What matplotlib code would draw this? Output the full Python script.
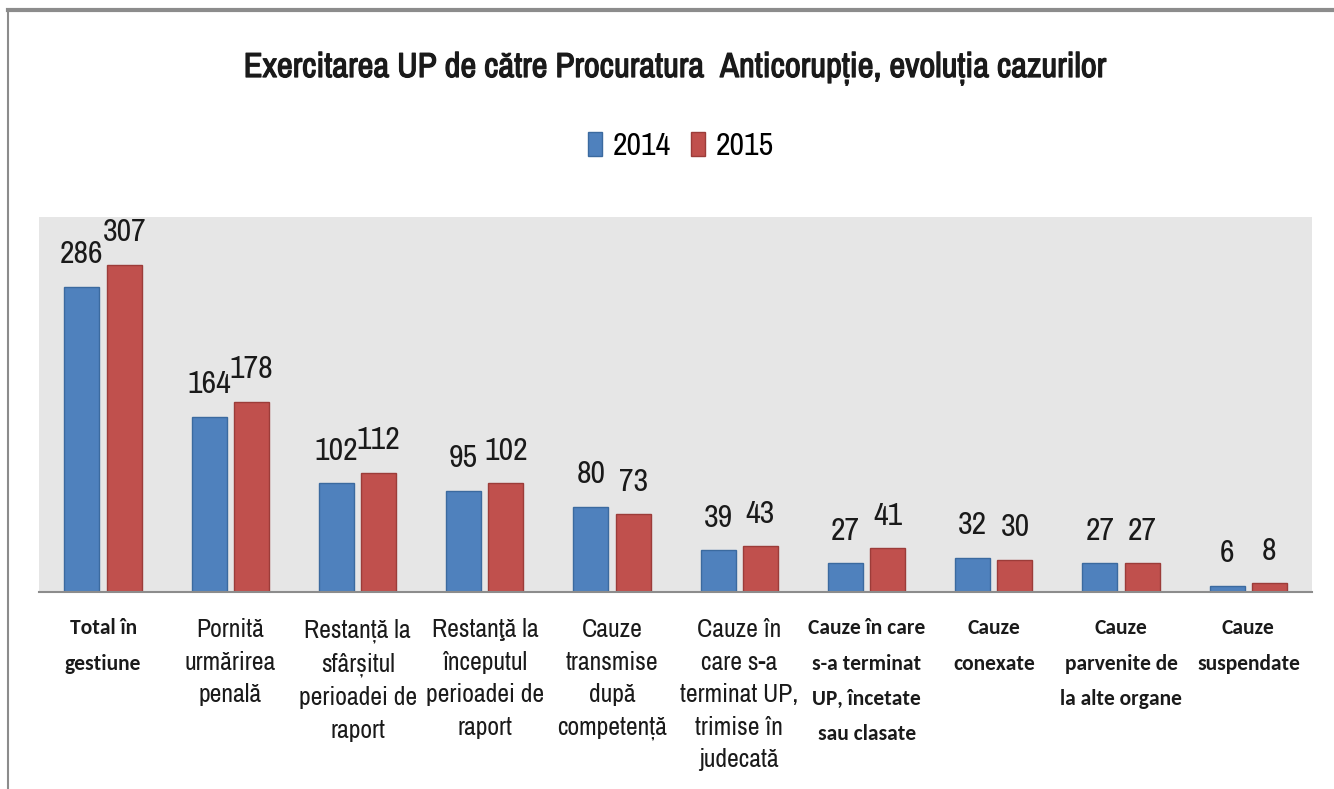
import matplotlib.pyplot as plt
import matplotlib.patches as mpatches
import matplotlib.patheffects as pe
from matplotlib.lines import Line2D
import numpy as np

# Data
categories = [
    "Total în\ngestiune",
    "Pornită\nurmărirea\npenală",
    "Restanță la\nsfârșitul\nperioadei de\nraport",
    "Restanţă la\nînceputul\nperioadei de\nraport",
    "Cauze\ntransmise\ndupă\ncompetență",
    "Cauze în\ncare s-a\nterminat UP,\ntrimise în\njudecată",
    "Cauze în care\ns-a terminat\nUP, încetate\nsau clasate",
    "Cauze\nconexate",
    "Cauze\nparvenite de\nla alte organe",
    "Cauze\nsuspendate",
]
bold_labels = [True, False, False, False, False, False, True, True, True, True]
years = ["2014", "2015"]
values_2014 = [286, 164, 102, 95, 80, 39, 27, 32, 27, 6]
values_2015 = [307, 178, 112, 102, 73, 43, 41, 30, 27, 8]

title = "Exercitarea UP de către Procuratura  Anticorupție, evoluția cazurilor"

# Calibri-like and Arial-Narrow-like families, first one found wins
calibri = ['Carlito', 'IBM Plex Sans Condensed', 'Open Sans Condensed', 'DejaVu Sans']
narrow = ['Liberation Sans Narrow', 'Archivo Narrow', 'PT Sans Narrow', 'Roboto Condensed',
          'IBM Plex Sans Condensed', 'DejaVu Sans']
plt.rcParams['font.family'] = calibri

blue, blue_edge = "#4F81BD", "#3B6A9F"
red, red_edge = "#C0504D", "#9C3C39"

fig = plt.figure(figsize=(13.34, 7.89), dpi=100)
ax = fig.add_axes([0.0296, 0.2497, 0.9539, 0.4759])
ax.set_facecolor("#E6E6E6")

x = np.arange(len(categories))
w = 0.275
off = 0.166
b1 = ax.bar(x - off, values_2014, w, color=blue, edgecolor=blue_edge, linewidth=1, label=years[0])
b2 = ax.bar(x + off, values_2015, w, color=red, edgecolor=red_edge, linewidth=1, label=years[1])

for bars in (b1, b2):
    for rect in bars:
        h = rect.get_height()
        ax.annotate(f"{int(h)}", (rect.get_x() + rect.get_width() / 2, h),
                    xytext=(0, 17), textcoords="offset points", family=narrow,
                    ha="center", va="baseline", fontsize=23, color="#1a1a1a")

ax.set_xlim(-0.5, len(categories) - 0.5)
ax.set_ylim(0, 352)
ax.set_yticks([])
ax.set_xticks(x)
ax.set_xticklabels([])
ax.tick_params(axis="x", length=0)
for s in ["top", "right", "left"]:
    ax.spines[s].set_visible(False)
ax.spines["bottom"].set_color("#8C8C8C")
ax.spines["bottom"].set_linewidth(1.5)

# category labels under the axis
for i, (lab, bold) in enumerate(zip(categories, bold_labels)):
    ax.annotate(lab, (i, 0), xytext=(0, -19), textcoords="offset points",
                ha="center", va="top", fontsize=15.5 if bold else 18.5,
                family=calibri if bold else narrow,
                fontweight="bold" if bold else "normal",
                linespacing=1.95 if bold else 1.5, color="#1a1a1a")

# narrow font has no bold face, so thicken the strokes a little
fig.text(675 / 1334, 1 - 68 / 789, title, ha="center", va="center", family=narrow,
         fontsize=25, color="#1a1a1a",
         path_effects=[pe.withStroke(linewidth=0.9, foreground="#1a1a1a")])

handles = [mpatches.Patch(facecolor=blue, edgecolor=blue_edge),
           mpatches.Patch(facecolor=red, edgecolor=red_edge)]
fig.legend(handles, years, loc="center", bbox_to_anchor=(681 / 1334, 1 - 146 / 789),
           ncol=2, frameon=False, prop={'family': narrow, 'size': 23},
           handlelength=0.45, handleheight=0.75, handletextpad=0.35, columnspacing=0.6)

# outer chart frame
fig.add_artist(Line2D([8 / 1334, 1], [1 - 10 / 789, 1 - 10 / 789], color="#8C8C8C", lw=3,
                      transform=fig.transFigure))
fig.add_artist(Line2D([8 / 1334, 8 / 1334], [0, 1 - 10 / 789], color="#8C8C8C", lw=1.5,
                      transform=fig.transFigure))

fig.savefig("out.png", dpi=100, facecolor="white")
